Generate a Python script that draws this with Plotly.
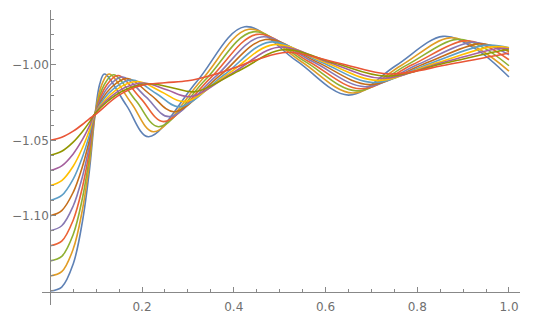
import plotly.graph_objects as go

colors = ["#5E81B5", "#E19C24", "#8FB032", "#EB6235", "#8778B3", "#C56E1A",
          "#5D9EC7", "#FFBF00", "#A5609D", "#929600", "#E95536"]

x_c0 = [0, 0.025, 0.05, 0.07, 0.085, 0.098, 0.108, 0.118, 0.166, 0.214, 0.319, 0.424, 0.537, 0.65, 0.753, 0.856, 0.928, 1.0]
y_c0 = [-1.15, -1.1474, -1.1321, -1.1041, -1.0709, -1.032, -1.0125, -1.006, -1.0268, -1.0476, -1.0111, -0.9746, -0.9973, -1.02, -1.0005, -0.981, -0.9895, -1.008]

x_c1 = [0, 0.025, 0.05, 0.07, 0.085, 0.098, 0.113, 0.128, 0.1765, 0.225, 0.329, 0.433, 0.546, 0.659, 0.765, 0.871, 0.9355, 1.0]
y_c1 = [-1.14, -1.1372, -1.1222, -1.0963, -1.0663, -1.032, -1.0125, -1.006, -1.0252, -1.0443, -1.0103, -0.9763, -0.9975, -1.0186, -1.0003, -0.982, -0.9896, -1.004]

x_c2 = [0, 0.025, 0.05, 0.07, 0.085, 0.098, 0.118, 0.138, 0.187, 0.236, 0.339, 0.442, 0.555, 0.668, 0.777, 0.886, 0.943, 1.0]
y_c2 = [-1.13, -1.127, -1.1125, -1.0886, -1.062, -1.032, -1.0129, -1.0065, -1.0238, -1.041, -1.0095, -0.978, -0.9976, -1.0172, -1.0001, -0.983, -0.9883, -1.0005]

x_c3 = [0, 0.025, 0.05, 0.07, 0.085, 0.098, 0.123, 0.148, 0.1975, 0.247, 0.349, 0.451, 0.564, 0.677, 0.789, 0.901, 0.9505, 1.0]
y_c3 = [-1.12, -1.1169, -1.103, -1.0813, -1.0579, -1.032, -1.0133, -1.007, -1.0223, -1.0376, -1.0087, -0.9797, -0.9978, -1.0158, -0.9999, -0.984, -0.9875, -0.9965]

x_c4 = [0, 0.025, 0.05, 0.07, 0.085, 0.098, 0.128, 0.158, 0.2085, 0.259, 0.3595, 0.46, 0.573, 0.686, 0.801, 0.916, 0.958, 1.0]
y_c4 = [-1.11, -1.1067, -1.0936, -1.0743, -1.054, -1.032, -1.014, -1.008, -1.0212, -1.0343, -1.0079, -0.9814, -0.9979, -1.0144, -0.9997, -0.985, -0.9872, -0.9932]

x_c5 = [0, 0.025, 0.05, 0.07, 0.085, 0.098, 0.1335, 0.169, 0.2195, 0.27, 0.3695, 0.469, 0.582, 0.695, 0.813, 0.931, 0.9655, 1.0]
y_c5 = [-1.10, -1.0966, -1.0845, -1.0676, -1.0503, -1.032, -1.0148, -1.009, -1.02, -1.031, -1.0071, -0.9831, -0.9981, -1.013, -0.9995, -0.986, -0.9873, -0.991]

x_c6 = [0, 0.025, 0.05, 0.07, 0.085, 0.098, 0.139, 0.18, 0.231, 0.282, 0.38, 0.478, 0.591, 0.704, 0.825, 0.946, 1.0]
y_c6 = [-1.09, -1.0866, -1.0757, -1.0612, -1.0469, -1.032, -1.0155, -1.010, -1.0189, -1.0277, -1.0063, -0.9848, -0.9982, -1.0116, -0.9993, -0.987, -0.9885]

x_c7 = [0, 0.025, 0.05, 0.07, 0.085, 0.098, 0.1445, 0.191, 0.242, 0.293, 0.39, 0.487, 0.6, 0.713, 0.837, 0.961, 1.0]
y_c7 = [-1.08, -1.0767, -1.0672, -1.0552, -1.0437, -1.032, -1.0163, -1.011, -1.0177, -1.0243, -1.0054, -0.9865, -0.9984, -1.0102, -0.9991, -0.988, -0.9885]

x_c8 = [0, 0.025, 0.05, 0.07, 0.085, 0.098, 0.1505, 0.203, 0.254, 0.305, 0.401, 0.497, 0.6095, 0.722, 0.849, 0.976, 1.0]
y_c8 = [-1.07, -1.0669, -1.059, -1.0496, -1.0408, -1.032, -1.017, -1.012, -1.0165, -1.021, -1.0046, -0.9882, -0.9985, -1.0088, -0.9989, -0.989, -0.9892]

x_c9 = [0, 0.025, 0.05, 0.07, 0.085, 0.098, 0.1565, 0.215, 0.2655, 0.316, 0.4115, 0.507, 0.619, 0.731, 0.861, 0.991, 1.0]
y_c9 = [-1.06, -1.0573, -1.0512, -1.0443, -1.0381, -1.032, -1.0174, -1.0125, -1.0151, -1.0177, -1.0038, -0.9899, -0.9987, -1.0074, -0.9987, -0.990, -0.990]

x_c10 = [0, 0.025, 0.05, 0.07, 0.085, 0.098, 0.15, 0.2, 0.25, 0.3, 0.35, 0.4, 0.45, 0.517, 0.63, 0.74, 0.87, 1.0]
y_c10 = [-1.05, -1.048, -1.0439, -1.0395, -1.0357, -1.033, -1.020, -1.0135, -1.0118, -1.0105, -1.007, -1.002, -0.9965, -0.9915, -0.9988, -1.006, -0.9995, -0.992]

xs = [x_c0, x_c1, x_c2, x_c3, x_c4, x_c5, x_c6, x_c7, x_c8, x_c9, x_c10]
ys = [y_c0, y_c1, y_c2, y_c3, y_c4, y_c5, y_c6, y_c7, y_c8, y_c9, y_c10]

x_tickvals = [0.2, 0.4, 0.6, 0.8, 1.0]
x_ticktext = ["0.2", "0.4", "0.6", "0.8", "1.0"]
y_tickvals = [-1.10, -1.05, -1.00]
y_ticktext = ["\u22121.10", "\u22121.05", "\u22121.00"]

fig = go.Figure()
for xv, yv, c in zip(xs, ys, colors):
    fig.add_trace(go.Scatter(x=xv, y=yv, mode="lines",
                             line=dict(color=c, width=1.6, shape="spline", smoothing=1.0),
                             showlegend=False, hoverinfo="skip"))

axis_col = "#888888"
font = dict(family="DejaVu Sans, sans-serif", size=12, color="#707070")

fig.update_layout(
    width=540, height=332,
    margin=dict(l=42, r=20, t=10, b=27),
    paper_bgcolor="white", plot_bgcolor="white",
    xaxis=dict(range=[-0.018, 1.024], anchor="free", position=0.0441,
               showline=True, linecolor=axis_col, linewidth=1,
               showgrid=False, zeroline=False,
               tickmode="array", tickvals=x_tickvals, ticktext=x_ticktext,
               ticks="inside", ticklen=5, tickcolor=axis_col, tickwidth=1,
               tickfont=font, ticklabelstandoff=4,
               minor=dict(dtick=0.05, ticks="inside", ticklen=3, tickcolor=axis_col, showgrid=False)),
    yaxis=dict(range=[-1.1593, -0.9635], anchor="free", position=0.01726,
               showline=True, linecolor=axis_col, linewidth=1,
               showgrid=False, zeroline=False,
               tickmode="array", tickvals=y_tickvals, ticktext=y_ticktext,
               ticks="inside", ticklen=5, tickcolor=axis_col, tickwidth=1,
               tickfont=font, ticklabelstandoff=-1,
               minor=dict(dtick=0.01, tick0=-1.0, ticks="inside", ticklen=3, tickcolor=axis_col, showgrid=False)),
)

fig.write_html("out.html")
